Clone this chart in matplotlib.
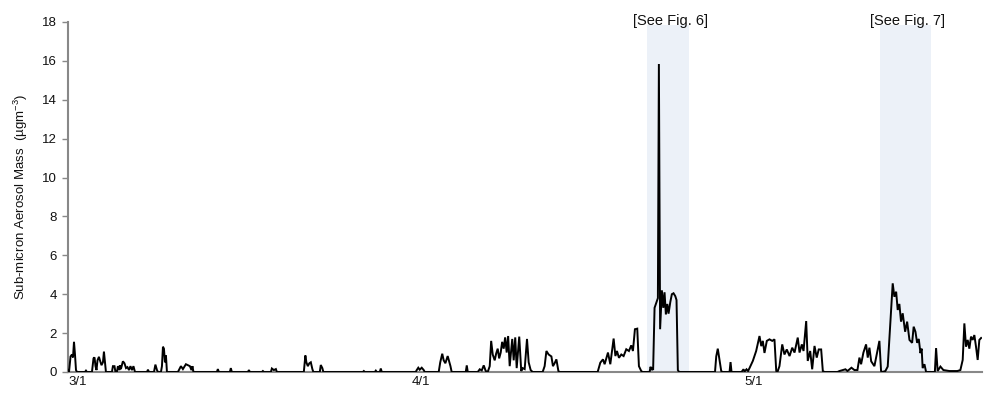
import matplotlib
matplotlib.use("Agg")
import matplotlib.pyplot as plt
import matplotlib.transforms as mtransforms

plt.rcParams['font.family'] = ['Liberation Sans', 'DejaVu Sans']
plt.rcParams['mathtext.fontset'] = 'custom'
plt.rcParams['mathtext.rm'] = 'Liberation Sans'
plt.rcParams['mathtext.it'] = 'Liberation Sans'

# days since 3/1 (fractional) and sub-micron aerosol mass (ug m-3)
days = [
    0.00, 0.09, 0.23, 0.36, 0.45, 0.54, 0.63, 0.72, 0.81,
    1.53, 1.62, 1.71,
    2.16, 2.30, 2.39, 2.48, 2.57, 2.66, 2.79, 2.88, 3.02, 3.15, 3.24, 3.33, 3.42,
    3.96, 4.05, 4.19, 4.28,
    4.41, 4.50, 4.64, 4.68, 4.77, 4.95, 5.09, 5.23, 5.36, 5.50, 5.63, 5.77, 5.90, 6.04,
    7.12, 7.21, 7.30,
    7.75, 7.88, 8.02, 8.11,
    8.38, 8.47, 8.56, 8.65, 8.74, 8.83, 8.92,
    9.91, 10.00, 10.18, 10.36, 10.63, 10.81, 10.99, 11.13, 11.22, 11.31,
    13.42, 13.51, 13.60,
    14.59, 14.68, 14.77,
    16.22, 16.31, 16.40,
    17.48, 17.57, 17.66,
    18.29, 18.38, 18.56, 18.74, 18.83,
    21.26, 21.40, 21.49, 21.62, 21.76, 21.89, 22.03, 22.12,
    22.70, 22.79, 22.93, 23.02,
    26.58, 26.67, 26.76,
    27.66, 27.75, 27.84,
    28.11, 28.20, 28.29,
    31.35, 31.44, 31.58, 31.71, 31.89, 32.07, 32.16,
    33.42, 33.56, 33.74, 33.87, 34.02, 34.23, 34.48, 34.59,
    35.86, 35.95, 36.04,
    36.94, 37.12, 37.30, 37.48, 37.66,
    37.84, 38.02, 38.15, 38.29, 38.47, 38.60, 38.74, 38.87, 39.01, 39.14, 39.28,
    39.41, 39.55, 39.68, 39.82, 39.95, 40.05, 40.18, 40.32, 40.45, 40.68, 40.86,
    40.99, 41.17, 41.38, 41.53, 41.71, 41.89,
    42.79, 42.97, 43.13, 43.33, 43.58, 43.72, 43.87, 44.03, 44.21, 44.32,
    47.75, 47.99, 48.23, 48.38, 48.68, 48.89, 49.19, 49.35, 49.49, 49.67, 49.88,
    50.09, 50.33, 50.57, 50.78, 50.93, 51.11, 51.32, 51.47, 51.68, 51.80,
    52.43, 52.52, 52.62, 52.70, 52.75, 52.88, 53.06, 53.18, 53.27, 53.38,
    53.54, 53.67, 53.78, 53.90, 54.03, 54.14, 54.30, 54.44, 54.59, 54.75, 54.86,
    54.98, 55.09,
    58.33, 58.44, 58.58, 58.74, 58.89, 59.01,
    59.64, 59.73, 59.82,
    60.72, 60.90, 60.99, 61.17, 61.31,
    61.44, 61.74, 62.04, 62.34, 62.50, 62.64, 62.79, 63.00, 63.24, 63.49, 63.69,
    63.85, 63.96,
    64.14, 64.39, 64.59, 64.80, 65.05, 65.29, 65.50, 65.79, 65.95, 66.16, 66.31,
    66.55, 66.69, 66.91, 67.09, 67.30, 67.50, 67.68, 67.90, 68.05, 68.20,
    69.37, 69.55, 70.09, 70.27, 70.63, 70.90,
    71.17, 71.35, 71.50, 71.71, 71.95, 72.10, 72.25, 72.41, 72.70, 72.91, 73.15,
    73.30, 73.42,
    73.69, 73.90, 74.12, 74.35, 74.50, 74.66, 74.80, 74.95, 75.10, 75.25, 75.47,
    75.65, 75.86, 76.10, 76.24, 76.40, 76.55, 76.70, 76.85, 76.96, 77.05, 77.21,
    77.36,
    78.15, 78.26, 78.40, 78.65, 78.92, 79.46, 80.18,
    80.45, 80.66, 80.81, 80.96, 81.11, 81.26, 81.41, 81.56, 81.71, 81.86, 82.01,
    82.16, 82.32,
]
mass = [
    0.10, 0.00, 0.80, 0.90, 0.75, 1.55, 0.90, 0.10, 0.00,
    0.00, 0.07, 0.00,
    0.00, 0.70, 0.75, 0.30, 0.10, 0.60, 0.78, 0.60, 0.35, 0.50, 1.05, 0.50, 0.00,
    0.00, 0.30, 0.30, 0.00,
    0.00, 0.30, 0.10, 0.35, 0.15, 0.55, 0.45, 0.20, 0.25, 0.10, 0.30, 0.10, 0.30, 0.00,
    0.00, 0.12, 0.00,
    0.00, 0.38, 0.10, 0.00,
    0.00, 0.30, 1.30, 1.20, 0.50, 0.85, 0.00,
    0.00, 0.10, 0.30, 0.15, 0.40, 0.35, 0.30, 0.10, 0.30, 0.00,
    0.00, 0.15, 0.00,
    0.00, 0.20, 0.00,
    0.00, 0.10, 0.00,
    0.00, 0.05, 0.00,
    0.00, 0.18, 0.10, 0.15, 0.00,
    0.00, 0.85, 0.50, 0.30, 0.45, 0.50, 0.15, 0.00,
    0.00, 0.36, 0.20, 0.00,
    0.00, 0.05, 0.00,
    0.00, 0.07, 0.00,
    0.00, 0.18, 0.00,
    0.00, 0.10, 0.22, 0.12, 0.22, 0.10, 0.00,
    0.00, 0.50, 0.94, 0.60, 0.45, 0.82, 0.30, 0.00,
    0.00, 0.34, 0.00,
    0.00, 0.14, 0.08, 0.34, 0.05,
    0.00, 0.30, 1.60, 0.90, 0.60, 0.95, 1.20, 0.70, 1.00, 1.55, 1.20,
    1.78, 1.00, 1.85, 0.30, 1.10, 1.70, 0.60, 1.78, 0.20, 1.82, 0.05,
    0.20, 0.15, 1.70, 0.50, 0.10, 0.00,
    0.00, 0.30, 1.08, 0.90, 0.80, 0.30, 0.45, 0.65, 0.05, 0.00,
    0.00, 0.48, 0.65, 0.40, 1.00, 0.40, 1.72, 0.82, 1.08, 0.73, 0.90,
    0.82, 1.17, 1.08, 1.37, 1.08, 2.20, 2.23, 0.30, 0.05, 0.00,
    0.00, 0.27, 0.10, 0.20, 0.10, 3.30, 3.60, 3.80, 15.84, 2.20,
    4.20, 3.30, 4.10, 2.96, 3.50, 3.00, 3.60, 4.00, 4.05, 3.90, 3.70,
    0.10, 0.00,
    0.00, 0.80, 1.20, 0.60, 0.05, 0.00,
    0.00, 0.51, 0.00,
    0.00, 0.14, 0.02, 0.14, 0.05,
    0.20, 0.57, 1.08, 1.85, 1.33, 1.60, 0.98, 1.60, 1.68, 1.60, 1.68,
    0.05, 0.00,
    0.30, 1.42, 0.90, 1.16, 0.82, 1.25, 1.00, 1.77, 1.00, 1.42, 1.08,
    2.62, 0.57, 1.08, 0.14, 1.34, 0.74, 1.16, 1.16, 0.05, 0.00,
    0.00, 0.05, 0.14, 0.05, 0.22, 0.10,
    0.10, 0.74, 0.40, 1.00, 1.42, 0.74, 1.25, 0.55, 0.30, 0.90, 1.60,
    0.05, 0.00,
    0.05, 0.28, 2.33, 4.56, 3.87, 4.13, 3.19, 3.50, 2.59, 3.02, 2.07,
    2.59, 1.65, 1.50, 2.33, 2.07, 1.50, 1.70, 0.97, 1.20, 0.20, 0.40,
    0.00,
    0.00, 1.23, 0.05, 0.28, 0.10, 0.05, 0.05,
    0.10, 0.62, 2.50, 1.30, 1.65, 1.20, 1.82, 1.65, 1.90, 1.30, 0.62,
    1.65, 1.75,
]

shade_spans = [(52.16, 55.95), (73.24, 77.84)]
shade_labels = ["[See Fig. 6]", "[See Fig. 7]"]
label_x = [54.3, 75.7]

tick_days = [0, 31, 61]
tick_labels = ["3/1", "4/1", "5/1"]
y_ticks = [0, 2, 4, 6, 8, 10, 12, 14, 16, 18]

fig = plt.figure(figsize=(9.89, 4.0), dpi=100)
ax = fig.add_axes([68/989, 1 - 372/400, (982 - 68)/989, 350/400])

for (a, b) in shade_spans:
    ax.axvspan(a, b, ymin=0, ymax=17.85/18, color='#ECF1F8', lw=0, zorder=0)
for t, xl in zip(shade_labels, label_x):
    ax.text(xl, 18.05, t, ha='center', va='center', fontsize=10.5, color='#111111', clip_on=False)

ax.plot(days, mass, color='black', lw=1.4, zorder=3, solid_joinstyle='miter')

ax.set_xlim(0, 82.4)
ax.set_ylim(0, 18)
ax.set_yticks(y_ticks)
ax.set_yticklabels([str(v) for v in y_ticks], fontsize=9.5, color='#111111')
ax.set_xticks(tick_days)
ax.set_xticklabels(tick_labels, fontsize=9.5, color='#111111', ha='left')
offset = mtransforms.ScaledTranslation(-3/100, 0, fig.dpi_scale_trans)
for lab in ax.get_xticklabels():
    lab.set_transform(lab.get_transform() + offset)
ax.tick_params(axis='x', length=0, pad=3)
ax.tick_params(axis='y', direction='out', length=4, width=1, color='#888888', pad=4)

for s in ['top', 'right']:
    ax.spines[s].set_visible(False)
for s in ['left', 'bottom']:
    ax.spines[s].set_color('#888888')
    ax.spines[s].set_linewidth(1.5)

ax.set_ylabel(r'Sub-micron Aerosol Mass  (µgm$^{-3}$)', fontsize=9.5, color='#111111', labelpad=9)

fig.savefig('out.png', dpi=100)
